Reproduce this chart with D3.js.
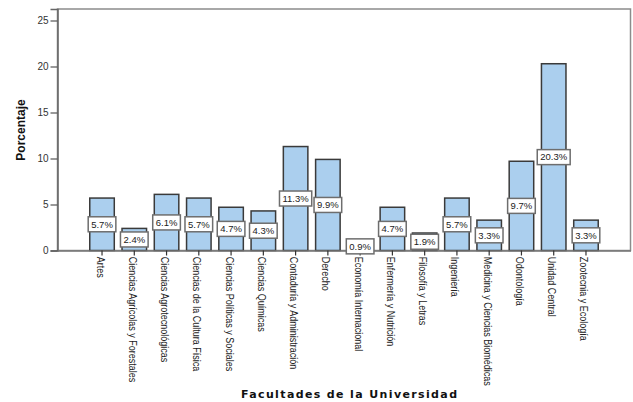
<!DOCTYPE html>
<html>
<head>
<meta charset="utf-8">
<script src="https://cdn.jsdelivr.net/npm/d3@7"></script>
<style>
  body { margin: 0; background: #fff; }
  svg { display: block; }
</style>
</head>
<body>
<svg id="chart" width="633" height="402"></svg>
<script>
// Distribución porcentual de estudiantes por facultad
const facultades = [
  "Artes",
  "Ciencias Agrícolas y Forestales",
  "Ciencias Agrotecnológicas",
  "Ciencias de la Cultura Física",
  "Ciencias Políticas y Sociales",
  "Ciencias Químicas",
  "Contaduría y Administración",
  "Derecho",
  "Economía Internacional",
  "Enfermería y Nutrición",
  "Filosofía y Letras",
  "Ingeniería",
  "Medicina y Ciencias Biomédicas",
  "Odontología",
  "Unidad Central",
  "Zootecnia y Ecología"
];
const porcentajes = [5.7, 2.4, 6.1, 5.7, 4.7, 4.3, 11.3, 9.9, 0.9, 4.7, 1.9, 5.7, 3.3, 9.7, 20.3, 3.3];
const yTicks = [0, 5, 10, 15, 20, 25];
const yMax = 26.25;

const svg = d3.select("#chart");
const plot = { left: 57.5, right: 630.5, top: 9, bottom: 250.5 };

const x = d3.scaleBand()
  .domain(facultades)
  .range([plot.left, plot.right])
  .paddingInner(0.24)
  .paddingOuter(1.0);

const y = d3.scaleLinear()
  .domain([0, yMax])
  .range([plot.bottom, plot.top]);

// plot frame
svg.append("rect")
  .attr("x", plot.left).attr("y", plot.top)
  .attr("width", plot.right - plot.left)
  .attr("height", plot.bottom - plot.top)
  .attr("fill", "none")
  .attr("stroke", "#8c8c8c")
  .attr("stroke-width", 1.5);

// y axis
const yAxis = svg.append("g")
  .attr("transform", `translate(${plot.left},0)`)
  .call(d3.axisLeft(y).tickValues(yTicks).tickSize(7).tickPadding(2));
yAxis.select(".domain").attr("stroke", "#666").attr("stroke-width", 1.5);
yAxis.selectAll(".tick line").attr("stroke", "#555").attr("stroke-width", 1.2);
yAxis.selectAll(".tick text")
  .attr("fill", "#333")
  .style("font-family", "'Liberation Sans', Arial, sans-serif")
  .style("font-size", "10px");

// bars
svg.append("g").selectAll("rect")
  .data(porcentajes)
  .join("rect")
  .attr("x", (d, i) => x(facultades[i]))
  .attr("y", d => y(d))
  .attr("width", x.bandwidth())
  .attr("height", d => y(0) - y(d))
  .attr("fill", "#abcfee")
  .attr("stroke", "#3a3a3a")
  .attr("stroke-width", 1.5);

// x axis, with condensed vertical category labels
const xAxis = svg.append("g")
  .attr("transform", `translate(0,${plot.bottom})`)
  .call(d3.axisBottom(x).tickSize(5).tickSizeOuter(0));
xAxis.select(".domain").attr("stroke", "#777").attr("stroke-width", 1.5);
xAxis.selectAll(".tick line").attr("stroke", "#333").attr("stroke-width", 1.2);
xAxis.selectAll(".tick text")
  .attr("fill", "#222")
  .style("font-family", "'Liberation Sans', Arial, sans-serif")
  .style("font-size", "10px")
  .attr("text-anchor", "start")
  .attr("transform", "rotate(90) scale(0.9,1)")
  .attr("x", 7)
  .attr("y", 0)
  .attr("dy", "0.55em");

// value labels in boxes at mid-height of each bar
const labels = svg.append("g").selectAll("g")
  .data(porcentajes)
  .join("g")
  .attr("transform", (d, i) => `translate(${x(facultades[i]) + x.bandwidth() / 2},${y(d / 2)})`);

labels.append("rect").attr("class", "box");
labels.append("text")
  .attr("text-anchor", "middle")
  .attr("dy", "0.35em")
  .attr("fill", "#222")
  .style("font-family", "'Liberation Sans', Arial, sans-serif")
  .style("font-size", "9.5px")
  .text(d => d.toFixed(1) + "%");

labels.each(function () {
  const g = d3.select(this);
  const w = g.select("text").node().getComputedTextLength();
  g.select("rect.box")
    .attr("x", -w / 2 - 3)
    .attr("y", -7.5)
    .attr("width", w + 6)
    .attr("height", 15)
    .attr("fill", "#fff")
    .attr("stroke", "#6e6e6e")
    .attr("stroke-width", 1.5);
});

// axis titles
svg.append("text")
  .attr("transform", "translate(25,130) rotate(-90)")
  .attr("text-anchor", "middle")
  .attr("fill", "#111")
  .style("font-family", "'Liberation Sans', Arial, sans-serif")
  .style("font-size", "12px")
  .style("font-weight", "bold")
  .text("Porcentaje");

svg.append("text")
  .attr("x", 349)
  .attr("y", 398)
  .attr("text-anchor", "middle")
  .attr("fill", "#111")
  .style("font-family", "'DejaVu Sans', Verdana, sans-serif")
  .style("font-size", "11px")
  .style("font-weight", "bold")
  .attr("textLength", 216)
  .attr("lengthAdjust", "spacing")
  .text("Facultades de la Universidad");
</script>
</body>
</html>
